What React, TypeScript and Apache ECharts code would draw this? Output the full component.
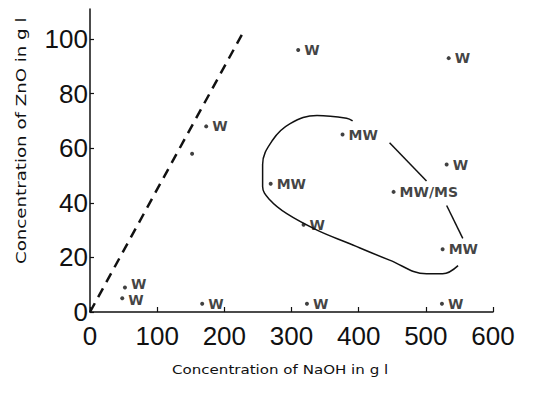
import React, { useEffect, useRef } from "react";
import * as echarts from "echarts";

const xTicks = [0, 100, 200, 300, 400, 500, 600];
const yTicks = [0, 20, 40, 60, 80, 100];

const pointX = [52, 48, 167, 173, 152, 310, 534, 376, 269, 452, 531, 318, 525, 323, 524];
const pointY = [9, 5, 3, 68, 58, 96, 93, 65, 47, 44, 54, 32, 23, 3, 3];
const pointLabels = ["W", "W", "W", "W", "", "W", "W", "MW", "MW", "MW/MS", "W", "W", "MW", "W", "W"];

const loopX = [391, 382, 338, 298, 272, 257, 257, 268, 293, 338, 387, 446, 501, 525, 548];
const loopY = [70, 71, 72, 69, 63, 54, 46, 41, 36, 30, 25, 19, 14, 14, 17];

const bound1X = [446, 501];
const bound1Y = [62, 48];
const bound2X = [531, 555];
const bound2Y = [39, 27];

const dashX = [0, 227];
const dashY = [0, 102];

const xTitle = "Concentration of NaOH in g l";
const yTitle = "Concentration of ZnO in g l";

const zip = (a: number[], b: number[]) => a.map((v, i) => [v, b[i]]);

export default function App() {
  const ref = useRef<HTMLDivElement>(null);
  useEffect(() => {
    if (!ref.current) return;
    const chart = echarts.init(ref.current, null, { renderer: "svg" });
    const ink = "#111";
    const lineStyle = { color: ink, width: 1.5 };
    chart.setOption({
      animation: false,
      backgroundColor: "#fff",
      grid: { left: 90, right: 46, top: 9, bottom: 85 },
      xAxis: {
        type: "value",
        min: 0,
        max: 600,
        interval: 100,
        splitLine: { show: false },
        axisLine: { lineStyle: { color: ink, width: 1.5 } },
        axisTick: { inside: true, length: 5, lineStyle: { color: ink, width: 1.2 }, customValues: xTicks },
        axisLabel: {
          customValues: xTicks,
          color: ink,
          fontFamily: "Liberation Sans",
          fontSize: 26,
          lineHeight: 20,
          margin: 14,
        },
      },
      yAxis: {
        type: "value",
        min: 0,
        max: 111,
        splitLine: { show: false },
        axisLine: { lineStyle: { color: ink, width: 1.5 } },
        axisTick: { inside: true, length: 4, lineStyle: { color: ink, width: 1.2 }, customValues: yTicks },
        axisLabel: {
          customValues: yTicks,
          color: ink,
          fontFamily: "Liberation Sans",
          fontSize: 26,
          lineHeight: 20,
          margin: 2,
        },
      },
      graphic: [
        {
          type: "text",
          x: 172,
          y: 363,
          scaleX: 1.16,
          style: { text: xTitle, fill: ink, font: "13px 'DejaVu Sans'" },
        },
        {
          type: "text",
          x: 14,
          y: 264,
          rotation: Math.PI / 2,
          scaleX: 1.3,
          style: { text: yTitle, fill: ink, font: "14px 'DejaVu Sans'" },
        },
      ],
      series: [
        {
          type: "line",
          data: zip(dashX, dashY),
          showSymbol: false,
          lineStyle: { color: ink, width: 2.5, type: [10, 7] },
          silent: true,
        },
        {
          type: "line",
          data: zip(loopX, loopY),
          smooth: 0.4,
          showSymbol: false,
          lineStyle,
          silent: true,
        },
        {
          type: "line",
          data: zip(bound1X, bound1Y),
          showSymbol: false,
          lineStyle,
          silent: true,
        },
        {
          type: "line",
          data: zip(bound2X, bound2Y),
          showSymbol: false,
          lineStyle,
          silent: true,
        },
        {
          type: "scatter",
          symbol: "circle",
          symbolSize: 4,
          itemStyle: { color: ink },
          data: pointX.map((x, i) => ({
            value: [x, pointY[i]],
            label: {
              show: pointLabels[i] !== "",
              formatter: pointLabels[i],
              position: "right",
              distance: 4,
              offset: i === 0 ? [0, -3] : i === 1 ? [0, 2] : [0, 0],
              color: ink,
              fontFamily: "DejaVu Sans",
              fontWeight: "bold",
              fontSize: 14,
              lineHeight: 13,
            },
          })),
        },
      ],
    });
    return () => chart.dispose();
  }, []);
  return <div ref={ref} style={{ width: 539, height: 397, margin: -8 }} />;
}
